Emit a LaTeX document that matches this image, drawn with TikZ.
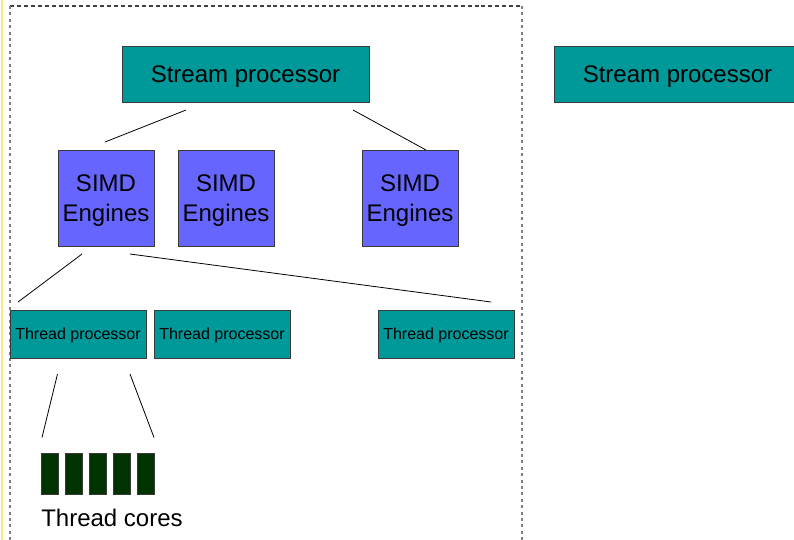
\documentclass[tikz,border=0pt]{standalone}
\usepackage{fontspec}
\setmainfont{Liberation Sans}
\definecolor{teal}{HTML}{009999}
\definecolor{simd}{HTML}{6666FF}
\definecolor{core}{HTML}{003300}
\definecolor{edge}{HTML}{3A3A3A}
\definecolor{railyellow}{HTML}{FFE680}
\begin{document}
\begin{tikzpicture}[x=0.75pt,y=-0.75pt,
  boxline/.style={draw=edge,line width=0.6pt,inner sep=0pt,align=center,text=black,text depth=0pt},
  streambox/.style={boxline,fill=teal,minimum width={247*0.75pt},minimum height={56*0.75pt},font=\fontsize{18}{21}\selectfont},
  simdbox/.style={boxline,fill=simd,minimum width={96*0.75pt},minimum height={96*0.75pt},font=\fontsize{18}{22.5}\selectfont},
  threadbox/.style={boxline,fill=teal,minimum width={136*0.75pt},minimum height={48*0.75pt},font=\fontsize{12}{14}\selectfont},
  corebox/.style={draw=edge,line width=0.5pt,fill=core,inner sep=0pt,minimum width={17*0.75pt},minimum height={41*0.75pt}},
  link/.style={black,line width=0.6pt}]
\useasboundingbox (0,0) rectangle (794,540);
\clip (0,0) rectangle (794,540);
\fill[white] (0,0) rectangle (794,540);

% yellow rail on the left edge
\fill[railyellow] (1,0) rectangle (3.4,540);

% dashed frame around one stream processor
\draw[black!75,line width=1.1pt,dash pattern=on 3pt off 2.2pt] (10,6) -- (522,6);
\draw[black!50,line width=1.5pt,dash pattern=on 2.2pt off 2.6pt] (10,6) -- (10,545);
\draw[black!50,line width=1.5pt,dash pattern=on 2.2pt off 2.6pt] (522,6) -- (522,545);

% stream processors
\node[streambox] (sp1) at (245.5,74) {Stream processor};
\node[streambox] (sp2) at (677.5,74) {Stream processor};

% SIMD engines
\node[simdbox] (simd1) at (106,198) {SIMD\\Engines};
\node[simdbox] (simd2) at (226,198) {SIMD\\Engines};
\node[simdbox] (simd3) at (410,198) {SIMD\\Engines};

% thread processors
\node[threadbox] (tp1) at (78,334) {Thread processor};
\node[threadbox] (tp2) at (222,334) {Thread processor};
\node[threadbox] (tp3) at (446,334) {Thread processor};

% thread cores
\foreach \i/\x in {1/49.5,2/73.5,3/97.5,4/121.5,5/145.5}
  \node[corebox] (core\i) at (\x,473.5) {};
\node[font=\fontsize{18}{21}\selectfont,inner sep=0pt,anchor=base] (corelabel) at (112,526) {Thread cores};

% fan-out line end points
\coordinate (a1) at (186,110);  \coordinate (a2) at (105,142);
\coordinate (b1) at (353,110);  \coordinate (b2) at (426,150);
\coordinate (c1) at (82,254);   \coordinate (c2) at (18,302);
\coordinate (d1) at (130,254);  \coordinate (d2) at (491,302);
\coordinate (e1) at (57.5,374); \coordinate (e2) at (42,437.5);
\coordinate (f1) at (130,374);  \coordinate (f2) at (154,437.5);

\draw[link] (a1) -- (a2);
\draw[link] (b1) -- (b2);
\draw[link] (c1) -- (c2);
\draw[link] (d1) -- (d2);
\draw[link] (e1) -- (e2);
\draw[link] (f1) -- (f2);
\end{tikzpicture}
\end{document}
